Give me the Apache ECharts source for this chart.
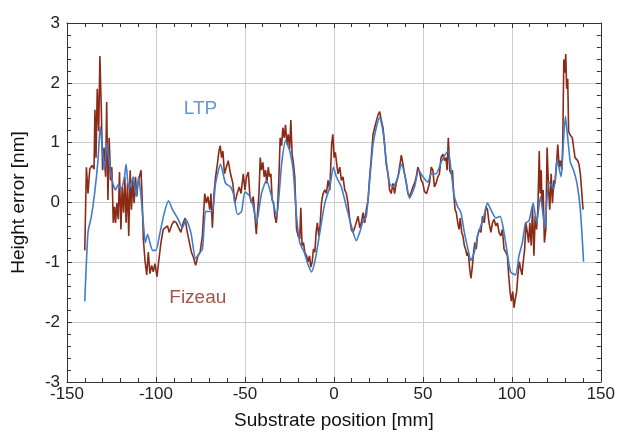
<!DOCTYPE html>
<html>
<head>
<meta charset="utf-8">
<script src="https://cdn.jsdelivr.net/npm/echarts@6/dist/echarts.min.js"></script>
<style>html,body{margin:0;padding:0;background:#fff}#c{width:618px;height:435px}</style>
</head>
<body>
<div id="c"></div>
<script>
// LTP (blue) profile: x [mm], y [nm]
const ltpX = [-140,-138.2,-136.3,-134.5,-132.6,-131.3,-130.2,-128.9,-127.6,-126.1,-124.2,-122.7,-121.4,-119.6,-117.7,-116.8,-115.3,-114,-112.7,-111.2,-109.7,-108.4,-107.1,-106,-104.7,-103.4,-101.9,-100,-98.1,-95.3,-92.9,-90.7,-87.9,-85.1,-83.2,-80.4,-77.7,-75.8,-73.9,-72.1,-70.2,-68.3,-66.5,-63.7,-60.9,-58.1,-56.5,-54.1,-51.9,-50,-47.2,-45.3,-43.5,-40.7,-37.9,-35,-32.2,-29.4,-27.2,-24.8,-22.9,-21,-19.2,-16.7,-14.5,-12.6,-10.4,-7.9,-5.1,-2.3,-0.3,1.4,4.2,7,9.8,12.6,14.5,16.4,18.2,20.1,22,23.8,25.7,27.6,29.4,31.3,33.2,36,37.9,40.1,42.5,45.3,47.6,50,52.8,54.7,57.4,60.2,62.1,64.3,65.8,67.7,69.6,71.4,73.3,75.1,77,78.9,80.7,82.6,84.5,86.3,88.2,91,93.4,95.3,97.1,99.3,102.1,104,105.9,107.7,109.6,112,113.9,116.1,118.5,120.8,123.6,125.4,127.7,128.8,130.1,131.4,132.9,134.7,136.6,138.5,140.3];
const ltpY = [-1.65,-0.5,-0.23,0.15,0.7,1.27,0.92,0.54,1.0,0.64,0.32,0.21,0.29,0.23,0.43,0.64,0.23,0.32,0.43,0.1,0.43,0.1,-0.34,-0.67,-0.53,-0.67,-0.8,-0.8,-0.56,-0.17,0.03,-0.12,-0.26,-0.42,-0.28,-0.5,-0.94,-0.86,-0.78,-0.15,-0.15,-0.15,0.32,0.64,0.32,0.26,0.15,-0.2,-0.15,0.18,0.1,-0.07,-0.34,0.15,0.37,0.1,-0.23,0.64,1.03,0.86,0.54,-0.23,-0.67,-0.83,-1.04,-1.16,-0.94,-0.5,-0.01,0.26,0.59,0.43,0.26,-0.07,-0.39,-0.64,-0.5,-0.31,-0.23,0.37,0.97,1.25,1.42,1.19,0.7,0.32,0.26,0.43,0.64,0.43,0.07,0.26,0.54,0.43,0.34,0.48,0.48,0.67,0.78,0.86,0.54,0.1,-0.07,-0.17,-0.5,-0.75,-0.97,-0.83,-0.56,-0.39,-0.2,-0.01,-0.12,-0.26,-0.23,-0.45,-0.78,-1.16,-1.21,-0.89,-0.67,-0.34,-0.31,-0.01,-0.34,0.1,-0.42,0.34,0.23,0.7,0.43,0.92,1.44,1.08,0.67,0.54,0.32,-0.12,-0.99];

// Fizeau (dark red) profile: x [mm], y [nm]
const fizX = [-140,-139.1,-138.2,-137.2,-135.9,-134.8,-134.3,-133.7,-133,-132.2,-131.5,-130.7,-130,-129.2,-128.3,-127.7,-127,-126.3,-125.5,-124.8,-124,-123.3,-122.7,-122,-121.2,-120.5,-119.7,-119,-118.2,-117.5,-116.8,-116,-115.3,-114.5,-113.8,-113,-112.3,-111.5,-110.8,-110.1,-109.3,-108.4,-107.8,-107.1,-106.1,-105.2,-104.3,-103.4,-102.4,-101.5,-100.6,-99.4,-98.5,-97.2,-95.9,-94.8,-93.5,-92.6,-91.1,-89.8,-88.5,-87.3,-86,-84.7,-83.6,-82.7,-81.4,-80.1,-79,-77.7,-76.4,-75.2,-73.9,-72.6,-71.7,-70.8,-69.8,-69.1,-68.3,-67.4,-66.5,-65.5,-64.6,-63.9,-63.1,-62.4,-61.5,-60.5,-59.4,-58.1,-56.8,-55.7,-54.4,-53.2,-52.2,-50.9,-50,-49.1,-48.1,-47.2,-46.3,-45.3,-44.4,-43.6,-42.9,-42.1,-41.4,-40.7,-39.9,-39.2,-38.4,-37.7,-36.9,-36.2,-35.4,-34.7,-33.9,-33.2,-32.4,-31.7,-30.9,-30.2,-29.4,-28.7,-27.9,-27.2,-26.4,-25.7,-24.9,-24.2,-23.5,-22.7,-22,-21,-20.1,-19.2,-18.6,-17.9,-17.1,-16.4,-15.4,-14.5,-13.7,-13,-12.2,-11.5,-10.7,-10,-9.3,-8.5,-7.8,-7,-6.1,-5.1,-4.2,-3.3,-2.3,-1.3,-0.6,0.1,0.8,1.6,2.3,3.3,4.2,5.1,6.1,7,7.9,8.9,9.8,10.7,11.7,12.6,13.6,14.5,15.4,16.4,17.3,18.2,19.2,20.1,21,22,22.9,23.8,24.8,25.7,26.6,27.6,28.5,29.4,30.4,31.3,32.2,33.2,34.1,35,36,36.9,37.9,38.8,39.7,40.7,41.6,42.5,43.5,44.4,45.3,46.3,47.2,48.1,49.1,50,50.9,52.1,53.7,54.7,55.6,56.5,57.4,58.4,59.3,60.2,61.2,62.1,63,63.6,64.3,65.1,65.8,66.6,67.3,68.1,68.8,69.6,70.3,71,71.8,72.5,73.3,74,74.8,75.5,76.3,77,77.7,78.5,79.2,80,80.7,81.7,82.6,83.5,84.5,85.4,86.3,87.2,88.2,89.1,90,91,91.9,92.8,93.8,94.7,95.6,96.6,97.5,98.2,99,99.7,100.5,101.2,102,102.7,103.4,104.2,104.9,105.7,106.4,107.2,107.9,108.7,109.4,110.1,110.9,111.6,112.4,113.1,113.9,114.6,115.4,115.9,116.5,117,117.6,118.3,119.1,119.8,120.6,121.3,122.1,122.8,123.6,124.3,125.1,125.8,126.6,127.3,128.1,128.6,129.2,129.7,130.3,130.8,131.4,131.9,132.5,133.2,134,134.7,135.5,136.2,137,137.7,138.5,139.2,140];
const fizY = [-0.8,0.59,0.15,0.56,0.62,0.56,1.55,0.75,1.9,1.19,2.45,1.52,0.54,0.92,0.43,1.68,0.04,1.08,0.37,0.59,-0.34,-0.07,-0.34,-0.01,-0.28,0.51,-0.45,0.26,-0.17,0.43,-0.34,0.32,-0.56,0.54,-0.12,0.37,-0.01,0.43,0.1,0.32,0.43,0.54,0.1,-0.61,-0.99,-1.21,-0.83,-1.19,-1.05,-1.16,-1.02,-1.24,-0.99,-0.67,-0.45,-0.42,-0.39,-0.5,-0.37,-0.31,-0.34,-0.42,-0.5,-0.34,-0.26,-0.45,-0.64,-0.83,-0.91,-1.05,-0.89,-0.83,-0.56,0.15,-0.01,0.1,-0.12,0.15,-0.42,0.15,0.43,0.64,0.86,0.95,0.75,0.86,0.48,0.59,0.7,0.48,0.32,-0.01,0.15,0.26,0.15,0.48,0.21,0.43,0.51,0.1,-0.01,0.1,-0.23,-0.53,-0.17,0.15,0.75,0.54,0.67,0.43,0.54,0.32,0.59,0.43,0.48,0.04,-0.01,-0.23,-0.34,-0.12,0.43,1.08,0.95,1.25,1.08,1.3,0.97,1.14,0.89,1.38,0.81,0.64,0.43,-0.45,-0.56,-0.61,-0.09,-0.72,-0.67,-0.83,-0.89,-0.99,-0.89,-1.08,-0.99,-0.78,-0.83,-0.5,-0.34,-0.56,-0.39,-0.01,0.15,0.21,0.15,0.37,0.21,0.97,1.14,0.75,0.84,0.64,0.48,0.59,0.37,0.43,0.21,0.15,-0.01,-0.28,-0.45,-0.5,-0.42,-0.45,-0.23,-0.42,-0.34,-0.17,-0.34,-0.12,0.04,0.43,0.75,1.14,1.25,1.36,1.46,1.52,1.38,1.25,0.97,0.64,0.48,0.21,0.15,0.32,0.15,0.32,0.43,0.59,0.79,0.64,0.48,0.32,0.15,0.1,0.18,0.26,0.32,0.43,0.59,0.51,0.37,0.32,0.18,0.15,0.32,0.59,0.54,0.26,0.32,0.43,0.48,0.75,0.81,0.7,0.75,0.54,1.08,0.54,0.48,0.54,0.15,-0.12,-0.17,-0.34,-0.45,-0.26,-0.5,-0.56,-0.72,-0.78,-0.89,-0.83,-1.1,-1.27,-1.1,-0.83,-0.67,-0.78,-0.56,-0.45,-0.5,-0.23,-0.34,-0.07,-0.12,-0.34,-0.5,-0.34,-0.28,-0.39,-0.34,-0.5,-0.56,-0.45,-0.78,-0.83,-0.89,-1.21,-1.49,-1.65,-1.49,-1.76,-1.6,-1.49,-1.21,-0.99,-1.1,-1.21,-0.99,-0.78,-0.34,-0.5,-0.67,-0.34,-0.72,-0.07,-0.89,-0.23,-0.45,-0.12,0.86,0.15,0.54,-0.07,0.21,-0.67,-0.45,0.92,0.26,-0.12,0.48,-0.01,0.37,0.32,0.64,0.97,0.59,0.7,0.54,0.97,2.39,2.17,2.48,1.9,2.07,1.19,1.14,1.16,1.08,0.92,0.75,0.75,0.7,0.64,0.48,0.21,-0.12];

// In-plot annotations (data coordinates)
const labelNames = ['LTP', 'Fizeau'];
const labelX = [-75, -76.5];
const labelY = [1.57, -1.59];

const xTicks = [-150, -100, -50, 0, 50, 100, 150];
const yTicks = [-3, -2, -1, 0, 1, 2, 3];

const BLUE = '#3f7dcb';
const RED = '#8a2a17';
const FONT = '"Liberation Sans", Arial, sans-serif';

const zip = (xs, ys) => xs.map((x, i) => [x, ys[i]]);

const chart = echarts.init(document.getElementById('c'), null, {renderer: 'canvas'});

const axisCommon = () => ({
  type: 'value',
  axisLine: {show: true, onZero: false, lineStyle: {color: '#333', width: 1}},
  axisTick: {show: true, inside: true, length: 5, lineStyle: {color: '#333'}},
  minorTick: {show: true, splitNumber: 5, length: 4, lineStyle: {color: '#333'}},
  minorSplitLine: {show: false}
});

chart.setOption({
  animation: false,
  backgroundColor: '#fff',
  grid: {left: 67, right: 14, top: 23, bottom: 46, containLabel: false},
  xAxis: [
    Object.assign(axisCommon(), {
      position: 'bottom', min: xTicks[0], max: xTicks[xTicks.length - 1], interval: 50,
      name: 'Substrate position [mm]', nameLocation: 'middle', nameGap: 29,
      nameTextStyle: {fontFamily: FONT, fontSize: 19, color: '#111'},
      axisLabel: {fontFamily: FONT, fontSize: 17, color: '#222', margin: 4},
      splitLine: {show: true, lineStyle: {color: '#cccccc', width: 1}}
    }),
    Object.assign(axisCommon(), {
      position: 'top', min: xTicks[0], max: xTicks[xTicks.length - 1], interval: 50,
      axisLabel: {show: false}, splitLine: {show: false}
    })
  ],
  yAxis: [
    Object.assign(axisCommon(), {
      position: 'left', min: yTicks[0], max: yTicks[yTicks.length - 1], interval: 1,
      name: 'Height error [nm]', nameLocation: 'middle', nameGap: 39, nameRotate: 90,
      nameTextStyle: {fontFamily: FONT, fontSize: 19, color: '#111'},
      axisLabel: {fontFamily: FONT, fontSize: 17, color: '#222', margin: 7},
      splitLine: {show: true, lineStyle: {color: '#cccccc', width: 1}}
    }),
    Object.assign(axisCommon(), {
      position: 'right', min: yTicks[0], max: yTicks[yTicks.length - 1], interval: 1,
      axisLabel: {show: false}, splitLine: {show: false}
    })
  ],
  series: [
    {
      name: 'Fizeau', type: 'line', data: zip(fizX, fizY), showSymbol: false,
      lineStyle: {color: RED, width: 1.6}, itemStyle: {color: RED}, z: 2
    },
    {
      name: 'LTP', type: 'line', data: zip(ltpX, ltpY), showSymbol: false, smooth: 0.2,
      lineStyle: {color: BLUE, width: 1.6}, itemStyle: {color: BLUE}, z: 3
    },
    {
      type: 'scatter', symbolSize: 0, z: 4, silent: true,
      data: labelNames.map((n, i) => ({
        value: [labelX[i], labelY[i]],
        label: {show: true, position: 'inside', formatter: n, fontFamily: FONT, fontSize: 19,
                color: i === 0 ? BLUE : RED}
      }))
    }
  ]
});
</script>
</body>
</html>
